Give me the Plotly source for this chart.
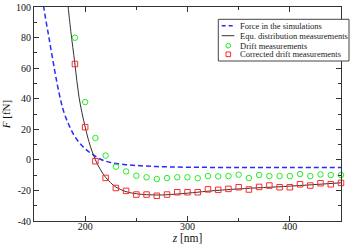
import plotly.graph_objects as go

# ---- data ----
z_sim = [158.5, 159.5, 164.6, 170.2, 174.4, 178.6, 184.0, 190.6, 198.7, 206.8, 215.0,
         224.7, 237.7, 250.0, 270.0, 300.0, 350.0, 400.0, 450.0]
F_sim = [106.0, 100.0, 80.0, 58.5, 44.0, 32.5, 23.0, 14.5, 8.0, 3.7, 0.4,
         -1.7, -3.0, -3.7, -4.4, -4.8, -5.0, -5.0, -5.0]

z_equ = [182.8, 183.4, 186.0, 190.0, 194.0, 200.0, 205.0, 210.0, 215.0, 220.0, 225.0,
         230.0, 240.0, 250.0, 260.0, 270.0, 280.0, 300.0, 320.0, 350.0, 400.0, 450.0]
F_equ = [105.0, 100.0, 84.0, 62.7, 41.0, 21.5, 9.0, 0.0, -6.5, -11.5, -15.0,
         -17.8, -20.8, -22.2, -22.8, -23.0, -22.8, -21.8, -20.5, -19.0, -17.2, -15.0]

z_pts = [190, 200, 210, 220, 230, 240, 250, 260, 270, 280, 290, 300, 310, 320,
         330, 340, 350, 360, 370, 380, 390, 400, 410, 420, 430, 440, 450]
F_drift = [79.9, 37.8, 14.3, 2.8, -4.5, -7.6, -10.4, -11.4, -12.5, -11.9, -11.4, -11.4,
           -12.0, -10.6, -10.8, -10.6, -9.7, -11.9, -9.9, -10.6, -10.6, -10.6, -9.3,
           -10.6, -9.5, -9.9, -9.9]
F_corr = [62.7, 21.4, -0.9, -11.8, -18.4, -20.3, -22.7, -22.7, -23.5, -22.7, -21.2, -21.2,
          -21.2, -19.3, -19.6, -19.0, -17.9, -19.4, -17.7, -16.8, -17.9, -17.9, -16.0,
          -16.8, -15.3, -16.0, -15.1]

x_ticks = [200, 300, 400]
x_ticktext = ["200", "300", "400"]
y_ticks = [-40, -20, 0, 20, 40, 60, 80, 100]
y_ticktext = ["-40", "-20", "0", "20", "40", "60", "80", "100"]

legend_labels = ["Force in the simulations", "Equ. distribution measurements",
                 "Drift measurements", "Corrected drift measurements"]

BLUE = "#2a2aff"
GREEN = "#22ee22"
RED = "#ff2a2a"
DARK = "#333333"
FONT = "Liberation Serif"

fig = go.Figure()
fig.add_trace(go.Scatter(x=z_sim, y=F_sim, mode="lines", line_shape="spline",
                         line=dict(color=BLUE, width=1.5, dash="5px,3px"),
                         name=legend_labels[0]))
fig.add_trace(go.Scatter(x=z_equ, y=F_equ, mode="lines", line_shape="spline",
                         line=dict(color=DARK, width=1),
                         name=legend_labels[1]))
fig.add_trace(go.Scatter(x=z_pts, y=F_drift, mode="markers", cliponaxis=False,
                         marker=dict(symbol="circle-open", size=5.5, color=GREEN,
                                     line=dict(width=1, color=GREEN)),
                         name=legend_labels[2]))
fig.add_trace(go.Scatter(x=z_pts, y=F_corr, mode="markers", cliponaxis=False,
                         marker=dict(symbol="square-open", size=5.5, color=RED,
                                     line=dict(width=1, color=RED)),
                         name=legend_labels[3]))

axis_common = dict(showgrid=False, zeroline=False, showline=True, linecolor=DARK,
                   linewidth=1, mirror="ticks", ticks="inside", ticklen=5,
                   tickcolor=DARK, tickwidth=1, automargin=False,
                   ticklabeloverflow="allow",
                   tickfont=dict(family=FONT, size=10, color="#111111"))

fig.update_xaxes(range=[150, 450], tickvals=x_ticks, ticktext=x_ticktext,
                 ticklabelstandoff=-4,
                 minor=dict(dtick=50, ticks="inside", ticklen=3, tickcolor=DARK),
                 title=dict(text="<i>z</i> [nm]", font=dict(family=FONT, size=11.5, color="#111111"),
                            standoff=0),
                 **axis_common)
fig.update_yaxes(range=[-40, 100], tickvals=y_ticks, ticktext=y_ticktext,
                 minor=dict(dtick=10, ticks="inside", ticklen=3, tickcolor=DARK),
                 title=dict(text="<i>F</i> [fN]", font=dict(family=FONT, size=11, color="#111111"),
                            standoff=7),
                 **axis_common)

# ---- hand-drawn legend (compact, like the original) ----
W, H = 354, 246
L, R, T, B = 34, 13, 7, 25
pw, ph = W - L - R, H - T - B
def px(x):
    return (x - L) / pw
def py(y):
    return (H - B - y) / ph

shapes = [
    dict(type="rect", xref="paper", yref="paper", x0=px(218.3), x1=px(349), y0=py(61), y1=py(19.3),
         line=dict(color="#444444", width=1), fillcolor="white", layer="above"),
    dict(type="line", xref="paper", yref="paper", x0=px(221.7), x1=px(234.3), y0=py(25.7), y1=py(25.7),
         line=dict(color=BLUE, width=1.5, dash="4px,3px"), layer="above"),
    dict(type="line", xref="paper", yref="paper", x0=px(221.7), x1=px(234.3), y0=py(35.7), y1=py(35.7),
         line=dict(color=DARK, width=1), layer="above"),
    dict(type="circle", xref="paper", yref="paper", xsizemode="pixel", ysizemode="pixel",
         xanchor=px(228.3), yanchor=py(45.7), x0=-2.3, x1=2.3, y0=-2.3, y1=2.3,
         line=dict(color=GREEN, width=1), layer="above"),
    dict(type="rect", xref="paper", yref="paper", xsizemode="pixel", ysizemode="pixel",
         xanchor=px(228.3), yanchor=py(54.3), x0=-2.3, x1=2.3, y0=-2.3, y1=2.3,
         line=dict(color=RED, width=1), layer="above"),
]
rows = [25.7, 35.7, 45.7, 54.3]
annotations = [
    dict(xref="paper", yref="paper", x=px(237.5), y=py(r), xanchor="left", yanchor="middle",
         text=t, showarrow=False, font=dict(family=FONT, size=8.5, color="#222222"))
    for t, r in zip(legend_labels, rows)
]

fig.update_layout(width=W, height=H, margin=dict(l=L, r=R, t=T, b=B, autoexpand=False),
                  paper_bgcolor="white", plot_bgcolor="white", showlegend=False,
                  shapes=shapes, annotations=annotations)

fig.write_html("out.html", config={"displayModeBar": False},
               post_script="document.body.style.margin='0';document.body.style.overflow='hidden';")
